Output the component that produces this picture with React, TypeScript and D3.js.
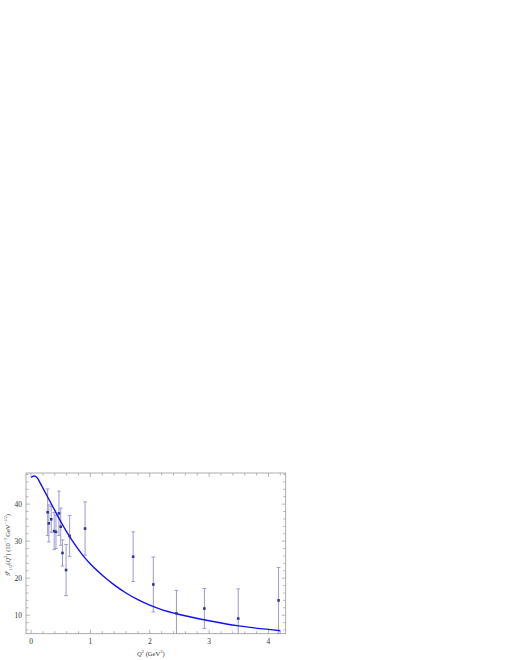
import React, { useRef, useEffect } from "react";
import * as d3 from "d3";

// measured points: Q^2 (GeV^2), S (10^-3 GeV^-1/2), error
const q2 = [0.28, 0.3, 0.34, 0.39, 0.42, 0.47, 0.5, 0.53, 0.59, 0.65, 0.91, 1.72, 2.06, 2.45, 2.92, 3.49, 4.17];
const sVal = [37.8, 34.8, 35.9, 32.7, 32.5, 37.5, 33.9, 26.8, 22.2, 31.4, 33.4, 25.8, 18.3, 10.5, 11.8, 9.1, 14.0];
const sErr = [6.3, 5.0, 3.5, 5.0, 4.5, 6.0, 5.0, 3.5, 6.9, 5.5, 7.2, 6.7, 7.4, 6.2, 5.4, 8.0, 8.9];

// model curve
const curveQ = [0, 0.05, 0.1, 0.15, 0.2, 0.3, 0.4, 0.5, 0.6, 0.7, 0.8, 0.9, 1.0, 1.2, 1.4, 1.6, 1.8, 2.0, 2.2, 2.5, 3.0, 3.5, 4.2];
const curveS = [47.2, 47.6, 47.2, 45.8, 44.3, 41.3, 38.3, 35.3, 32.5, 30.0, 27.7, 25.6, 23.8, 20.8, 18.2, 16.0, 14.2, 12.7, 11.5, 10.2, 8.5, 7.1, 5.8];

const xMajor = [0, 1, 2, 3, 4];
const yMajor = [10, 20, 30, 40];

const App = () => {
  const ref = useRef(null);

  const left = 26,
    right = 285.7,
    top = 473,
    bottom = 633.7;

  useEffect(() => {
    const svg = d3.select(ref.current);
    svg.selectAll("*").remove();

    const x = d3.scaleLinear().domain([-0.085, 4.29]).range([left, right]);
    const y = d3.scaleLinear().domain([5, 48.4]).range([bottom, top]);

    const frameColor = "#999";
    const font = "'Liberation Serif', 'Times New Roman', serif";

    const xMinor = d3.range(0, 4.21, 0.2).filter((v) => Math.abs(v - Math.round(v)) > 1e-6);
    const yMinor = d3.range(6, 48.1, 2).filter((v) => v % 10 !== 0);

    const g = svg.append("g");

    // frame
    g.append("rect")
      .attr("x", left)
      .attr("y", top)
      .attr("width", right - left)
      .attr("height", bottom - top)
      .attr("fill", "none")
      .attr("stroke", frameColor)
      .attr("stroke-width", 0.8);

    const ticks = g.append("g").attr("stroke", frameColor).attr("stroke-width", 0.7);
    const tickX = (v, len) => {
      ticks.append("line").attr("x1", x(v)).attr("x2", x(v)).attr("y1", bottom).attr("y2", bottom - len);
      ticks.append("line").attr("x1", x(v)).attr("x2", x(v)).attr("y1", top).attr("y2", top + len);
    };
    const tickY = (v, len) => {
      ticks.append("line").attr("y1", y(v)).attr("y2", y(v)).attr("x1", left).attr("x2", left + len);
      ticks.append("line").attr("y1", y(v)).attr("y2", y(v)).attr("x1", right).attr("x2", right - len);
    };
    xMajor.forEach((v) => tickX(v, 4));
    xMinor.forEach((v) => tickX(v, 2.5));
    yMajor.forEach((v) => tickY(v, 4));
    yMinor.forEach((v) => tickY(v, 2.5));

    g.selectAll(".xl")
      .data(xMajor)
      .enter()
      .append("text")
      .attr("x", (d) => x(d))
      .attr("y", bottom + 10.5)
      .attr("text-anchor", "middle")
      .attr("font-family", font)
      .attr("font-size", 7.5)
      .attr("fill", "#333")
      .text((d) => d);

    g.selectAll(".yl")
      .data(yMajor)
      .enter()
      .append("text")
      .attr("x", left - 4)
      .attr("y", (d) => y(d) + 2.6)
      .attr("text-anchor", "end")
      .attr("font-family", font)
      .attr("font-size", 7.5)
      .attr("fill", "#333")
      .text((d) => d);

    // x label
    const xt = g.append("text")
      .attr("x", (left + right) / 2 - 5)
      .attr("y", 656)
      .attr("text-anchor", "middle")
      .attr("font-family", font)
      .attr("font-size", 6.5)
      .attr("fill", "#333");
    xt.append("tspan").attr("font-style", "italic").text("Q");
    xt.append("tspan").attr("font-size", 4.5).attr("dy", -3).text("2");
    xt.append("tspan").attr("dy", 3).text(" (GeV");
    xt.append("tspan").attr("font-size", 4.5).attr("dy", -3).text("2");
    xt.append("tspan").attr("dy", 3).text(")");

    // y label
    const yt = g.append("text")
      .attr("transform", `translate(10,${545}) rotate(-90)`)
      .attr("text-anchor", "middle")
      .attr("font-family", font)
      .attr("font-size", 6.5)
      .attr("fill", "#333");
    yt.append("tspan").attr("font-style", "italic").text("S");
    yt.append("tspan").attr("font-size", 4.5).attr("dy", -3).text("p");
    yt.append("tspan").attr("font-size", 4.5).attr("dy", 4.5).text("1/2");
    yt.append("tspan").attr("dy", -1.5).text("(");
    yt.append("tspan").attr("font-style", "italic").text("Q");
    yt.append("tspan").attr("font-size", 4.5).attr("dy", -3).text("2");
    yt.append("tspan").attr("dy", 3).text(") (10");
    yt.append("tspan").attr("font-size", 4.5).attr("dy", -3).text("\u22123");
    yt.append("tspan").attr("dy", 3).text(" GeV");
    yt.append("tspan").attr("font-size", 4.5).attr("dy", -3).text("\u22121/2");
    yt.append("tspan").attr("dy", 3).text(")");

    const plot = svg.append("g");
    svg.append("defs")
      .append("clipPath")
      .attr("id", "clip")
      .append("rect")
      .attr("x", left)
      .attr("y", top)
      .attr("width", right - left)
      .attr("height", bottom - top);
    plot.attr("clip-path", "url(#clip)");

    const pts = q2.map((q, i) => ({ q, s: sVal[i], e: sErr[i] }));

    // error bars
    const eb = plot.append("g").attr("stroke", "#8a8ac8").attr("stroke-width", 1).attr("opacity", 0.85);
    pts.forEach((d) => {
      eb.append("line").attr("x1", x(d.q)).attr("x2", x(d.q)).attr("y1", y(d.s - d.e)).attr("y2", y(d.s + d.e));
      eb.append("line").attr("x1", x(d.q) - 1.8).attr("x2", x(d.q) + 1.8).attr("y1", y(d.s + d.e)).attr("y2", y(d.s + d.e));
      eb.append("line").attr("x1", x(d.q) - 1.8).attr("x2", x(d.q) + 1.8).attr("y1", y(d.s - d.e)).attr("y2", y(d.s - d.e));
    });

    // model curve
    const line = d3
      .line()
      .x((d) => x(d[0]))
      .y((d) => y(d[1]))
      .curve(d3.curveMonotoneX);
    plot.append("path")
      .datum(curveQ.map((q, i) => [q, curveS[i]]))
      .attr("fill", "none")
      .attr("stroke", "#1010ee")
      .attr("stroke-width", 1.4)
      .attr("d", line);

    // points
    plot.selectAll(".pt")
      .data(pts)
      .enter()
      .append("rect")
      .attr("x", (d) => x(d.q) - 1.3)
      .attr("y", (d) => y(d.s) - 1.3)
      .attr("width", 2.6)
      .attr("height", 2.6)
      .attr("fill", "#33339a");
  }, []);

  return (
    <svg
      ref={ref}
      width={510}
      height={660}
      style={{ position: "absolute", left: 0, top: 0, background: "#fff" }}
    ></svg>
  );
};

export default App;
